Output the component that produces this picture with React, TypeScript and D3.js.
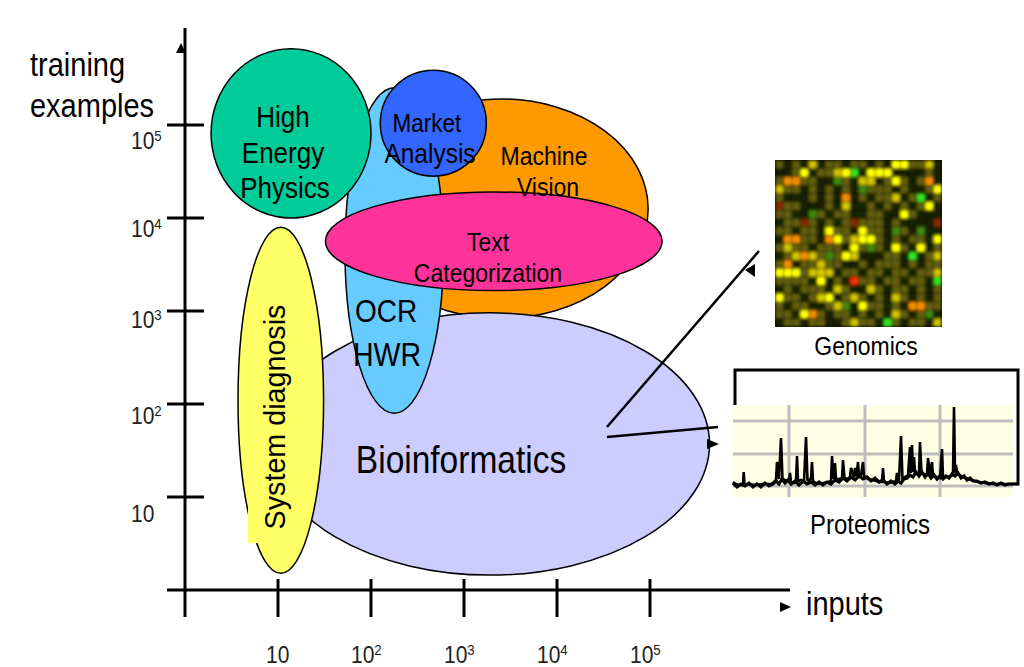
import React from 'react';
import * as d3 from 'd3';

// decades on both axes
const xTicks = [10, 100, 1000, 10000, 100000];
const yTicks = [10, 100, 1000, 10000, 100000];
const tickExponents = ['', '2', '3', '4', '5'];

// regions, centre and half extent in log10 units, in paint order
const regionNames = ['Machine Vision', 'Bioinformatics', 'OCR HWR', 'System diagnosis', 'High Energy Physics', 'Market Analysis', 'Text Categorization'];
const regionLogX = [3.4, 3.28, 2.25, 1.03, 1.14, 2.67, 3.32];
const regionLogY = [4.1, 1.57, 3.65, 2.04, 4.91, 5.02, 3.75];
const regionSpreadX = [1.58, 2.36, 0.53, 0.46, 0.86, 0.57, 1.81];
const regionSpreadY = [1.18, 1.41, 1.75, 1.86, 0.91, 0.57, 0.53];

// microarray spots, one letter per cell
const arrayRows = [
  'o.o.y.oo.oo.o.YYooy.',
  '..oY.ooyYG.YYY....o.',
  'oOOoo..go.yy.oYo.oO.',
  'yoo.o.o.o.gooo.o..oY',
  'o...o.o.O.o.ooy.oG.o',
  'roo...o.y..o.o.o.oY.',
  'oo..go.oo..oo..Yo...',
  '.ooro.o.orooo.o....r',
  'oo.oo.Yoo.Yoo.go.g..',
  '.OOoo.OYoyYYo.o.oo.Y',
  'oyoo.ooo.Yogo.Yo.Y.o',
  '.oyOyogoYy...oo.G.oy',
  'oO.ooyoo..o.ooo.o.oo',
  'YYYoyyy.oo.oo.oo.ooy',
  'oooo.Y.o.Roo.oo.oo.G',
  '.o.ooo.yo..yo.oo.o.o',
  'Yoo.oyY.oyo.o.yo.o.o',
  'o.oo..oyg.Yoo.o.OOoo',
  'oo.YOo.oo.o.o.yo.og.',
  '.oo.oo..oyoo.Go.oo.y'
];

// spectrum spikes, position and height above the panel floor
const traceMass = [0, 3, 6, 10, 10.7, 11.5, 15, 22, 30, 38, 41, 43, 44, 46, 48, 49.5, 52, 56, 57, 58, 61, 63, 64, 65, 68, 71, 73, 74.5, 76, 78, 79, 80, 84, 90, 95, 98, 99, 100.5, 102, 103, 106, 109, 110, 111.5, 114, 117, 118, 121, 122, 123.5, 125, 126, 128, 130, 131, 135, 140, 146, 149, 150, 151, 156, 160, 163, 164, 166, 168, 169.5, 172, 175, 177, 178, 179, 180, 181, 182, 184, 186, 187, 188.5, 191, 194, 195, 197, 199, 200, 204, 207, 209, 210, 214, 218, 220, 221, 222, 223, 224, 228, 233, 238, 245, 252, 260, 270, 280, 285];
const traceHeight = [8, 6, 5, 5, 18, 5, 6, 5, 6, 6, 8, 10, 28, 11, 52, 11, 10, 9, 17, 8, 7, 8, 34, 9, 10, 8, 53, 10, 9, 12, 28, 9, 6, 7, 8, 9, 34, 11, 27, 11, 11, 12, 30, 12, 11, 13, 22, 13, 22, 14, 28, 14, 15, 28, 14, 11, 10, 8, 8, 22, 8, 7, 8, 9, 17, 10, 54, 11, 13, 15, 43, 17, 45, 18, 33, 17, 16, 17, 48, 17, 16, 15, 32, 15, 28, 14, 13, 12, 41, 13, 13, 14, 15, 83, 17, 25, 17, 14, 12, 10, 8, 7, 6, 6, 6, 6];
// noisy floor under the spikes
const floorMass = [0, 4, 8, 12, 16, 20, 24, 28, 32, 36, 40, 43, 46, 49, 52, 55, 58, 62, 66, 70, 74, 78, 82, 86, 90, 94, 98, 102, 106, 110, 114, 118, 122, 126, 130, 134, 138, 142, 146, 150, 154, 158, 162, 165, 168, 171, 174, 177, 180, 183, 186, 189, 192, 195, 198, 201, 204, 207, 210, 213, 216, 219, 222, 225, 228, 231, 234, 237, 240, 244, 248, 252, 256, 260, 264, 268, 272, 276, 280];
const floorHeight = [7, 3, 6, 4, 7, 3, 6, 3, 7, 4, 6, 9, 6, 11, 7, 10, 6, 9, 5, 9, 6, 8, 5, 8, 5, 8, 6, 10, 8, 12, 9, 13, 10, 14, 11, 13, 9, 12, 8, 10, 6, 9, 6, 9, 7, 11, 12, 15, 13, 18, 14, 18, 13, 17, 12, 15, 11, 14, 11, 14, 12, 16, 14, 17, 12, 14, 10, 12, 9, 9, 7, 8, 6, 7, 5, 7, 5, 6, 6];
const gridMass = [56, 132, 207];
const gridLevels = [69, 36, 4];

const COLORS: Record<string, string> = {
  'Machine Vision': '#ff9900',
  'Bioinformatics': '#ccccff',
  'OCR HWR': '#66ccff',
  'System diagnosis': '#ffff66',
  'High Energy Physics': '#00cc99',
  'Market Analysis': '#3366ff',
  'Text Categorization': '#ff3399',
};

const SPOTS: Record<string, string> = {
  '.': '#182000',
  o: '#625f08',
  y: '#d6c800',
  Y: '#ffff00',
  O: '#f08c00',
  g: '#3f8a10',
  G: '#30e020',
  r: '#8a2c00',
  R: '#f03000',
};

const FONT = '"Liberation Sans", Arial, sans-serif';
const SQUEEZE = 0.88;

// the original slide text is a little narrow and tall
function Label({ x, y, size, anchor = 'start', fill = '#000', children }: any) {
  return (
    <text
      transform={`translate(${x},${y}) scale(${SQUEEZE},1)`}
      fontSize={size / SQUEEZE}
      textAnchor={anchor}
      fontFamily={FONT}
      fill={fill}
    >
      {children}
    </text>
  );
}

export default function App() {
  const x = d3.scaleLog().domain([1, 100000]).range([185, 650]);
  const y = d3.scaleLog().domain([1, 100000]).range([590, 125]);

  const ellipses = regionNames.map((name, i) => {
    const cx = x(10 ** regionLogX[i]);
    const cy = y(10 ** regionLogY[i]);
    return {
      name,
      cx,
      cy,
      rx: x(10 ** (regionLogX[i] + regionSpreadX[i])) - cx,
      ry: cy - y(10 ** (regionLogY[i] + regionSpreadY[i])),
    };
  });

  const idx = d3.range(20);
  const cellX = d3.scaleBand<number>().domain(idx).range([775, 942]).padding(0.06);
  const cellY = d3.scaleBand<number>().domain(idx).range([160, 327]).padding(0.06);

  const massX = d3.scaleLinear().domain([0, 280]).range([733, 1013]);
  const heightY = d3.scaleLinear().domain([0, 85]).range([490, 405]);
  const trace = d3.line<number>()
    .x((m) => massX(m))
    .y((_, i) => heightY(traceHeight[i]));
  const floor = d3.line<number>()
    .x((m) => massX(m))
    .y((_, i) => heightY(floorHeight[i]));

  const yLabelNudge = [25, 20, 17, 19, 24];
  const axisStroke = { stroke: '#000', strokeWidth: 3 };

  return (
    <svg width={1024} height={667} style={{ position: 'absolute', left: 0, top: 0, background: '#fff' }}>
      <defs>
        <filter id="soft" x="-5%" y="-5%" width="110%" height="110%">
          <feGaussianBlur stdDeviation="1.4" />
        </filter>
        <filter id="softer" x="-5%" y="-5%" width="110%" height="110%">
          <feGaussianBlur stdDeviation="0.9" />
        </filter>
        <clipPath id="arrayClip"><rect x={775} y={160} width={167} height={167} /></clipPath>
      </defs>

      {/* axes */}
      <line x1={185} x2={185} y1={28} y2={617} {...axisStroke} />
      <line x1={167} x2={790} y1={590} y2={590} {...axisStroke} />
      {yTicks.map((t) => (
        <line key={t} x1={167} x2={204} y1={y(t)} y2={y(t)} {...axisStroke} />
      ))}
      {xTicks.map((t) => (
        <line key={t} x1={x(t)} x2={x(t)} y1={579} y2={617} {...axisStroke} />
      ))}
      <path d="M181,43 L186,53 L176,53 Z" fill="#000" />
      <path d="M780,602 L791,607 L780,612 Z" fill="#000" />

      {yTicks.map((t, i) => (
        <Label key={t} x={131} y={y(t) + yLabelNudge[i]} size={21} fill="#222">
          10<tspan dy={-8} fontSize={15}>{tickExponents[i]}</tspan>
        </Label>
      ))}
      {xTicks.map((t, i) => (
        <Label key={t} x={x(t) - 12 - (i > 0 ? 8 : 0)} y={663} size={21} fill="#222">
          10<tspan dy={-8} fontSize={15}>{tickExponents[i]}</tspan>
        </Label>
      ))}

      <Label x={30} y={76} size={29}>training</Label>
      <Label x={30} y={117} size={29}>examples</Label>
      <Label x={806} y={615} size={29}>inputs</Label>

      {/* regions */}
      {ellipses.map((e) => (
        <ellipse key={e.name} cx={e.cx} cy={e.cy} rx={e.rx} ry={e.ry} fill={COLORS[e.name]} stroke="#000" strokeWidth={1.5} />
      ))}
      <rect x={248} y={480} width={16} height={63} fill={COLORS['System diagnosis']} />

      <Label x={283} y={127} size={26} anchor="middle">High</Label>
      <Label x={283} y={163} size={26} anchor="middle">Energy</Label>
      <Label x={285} y={198} size={26} anchor="middle">Physics</Label>
      <Label x={427} y={132} size={22.5} anchor="middle">Market</Label>
      <Label x={430} y={163} size={24.5} anchor="middle">Analysis</Label>
      <Label x={544} y={165} size={23} anchor="middle">Machine</Label>
      <Label x={548} y={196} size={23} anchor="middle">Vision</Label>
      <Label x={488} y={251} size={23} anchor="middle">Text</Label>
      <Label x={488} y={282} size={23} anchor="middle">Categorization</Label>
      <Label x={386} y={322} size={28} anchor="middle">OCR</Label>
      <Label x={387} y={366} size={28.5} anchor="middle">HWR</Label>
      <Label x={461} y={473} size={33.5} anchor="middle">Bioinformatics</Label>
      <text transform="translate(285,417) rotate(-90)" fontSize={28.7} textAnchor="middle" fontFamily={FONT} fill="#000">System diagnosis</text>

      {/* pointers */}
      <line x1={607} y1={427} x2={759} y2={251} stroke="#000" strokeWidth={2.5} />
      <line x1={607} y1={437} x2={718} y2={427} stroke="#000" strokeWidth={2.5} />
      <path d="M755,264 L745,270 L755,277 Z" fill="#000" />
      <path d="M707,439 L719,444 L707,449 Z" fill="#000" />

      {/* microarray */}
      <rect x={775} y={160} width={167} height={167} fill="#080a00" />
      <g clipPath="url(#arrayClip)">
        <g filter="url(#soft)">
          {arrayRows.map((row, r) =>
            row.split('').map((c, k) => (
              <rect key={`${r}-${k}`} x={cellX(k)} y={cellY(r)} width={cellX.bandwidth()} height={cellY.bandwidth()} fill={SPOTS[c]} />
            ))
          )}
        </g>
        {/* bright spots again so they stay hot after the blur */}
        <g filter="url(#softer)">
          {arrayRows.map((row, r) =>
            row.split('').map((c, k) =>
              'YOGR'.includes(c) ? (
                <rect key={`${r}-${k}`} x={cellX(k)! + 1.5} y={cellY(r)! + 1.5} width={cellX.bandwidth() - 3} height={cellY.bandwidth() - 3} fill={SPOTS[c]} />
              ) : null
            )
          )}
        </g>
      </g>
      <Label x={866} y={355} size={23} anchor="middle">Genomics</Label>

      {/* spectrum */}
      <path d="M735,405 L735,370 L1018,370 L1018,484 L1005,484" fill="none" stroke="#000" strokeWidth={3} />
      <rect x={733} y={405} width={280} height={92} fill="#ffffe6" />
      {gridMass.map((m) => (
        <line key={m} x1={massX(m)} x2={massX(m)} y1={405} y2={497} stroke="#bdbdbd" strokeWidth={3} />
      ))}
      {gridLevels.map((l) => (
        <line key={l} x1={733} x2={1013} y1={heightY(l)} y2={heightY(l)} stroke="#bdbdbd" strokeWidth={3} />
      ))}
      <path d={floor(floorMass) ?? ''} fill="none" stroke="#000" strokeWidth={3.2} />
      <path d={trace(traceMass) ?? ''} fill="none" stroke="#000" strokeWidth={2.6} />
      <Label x={870} y={534} size={24} anchor="middle">Proteomics</Label>
    </svg>
  );
}
